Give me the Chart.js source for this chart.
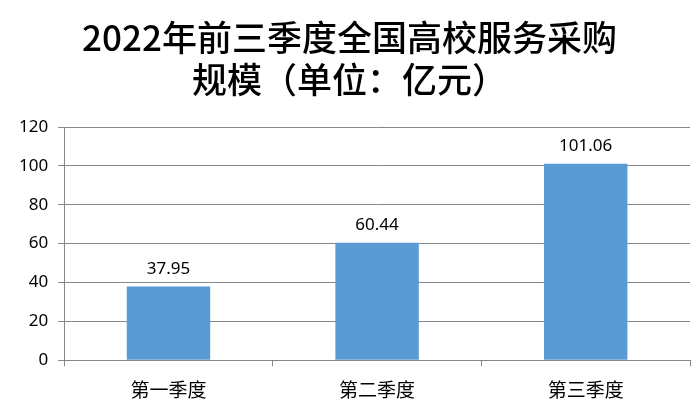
<!DOCTYPE html>
<html>
<head>
<meta charset="utf-8">
<script src="https://cdn.jsdelivr.net/npm/chart.js@4"></script>
<style>
  html, body { margin: 0; padding: 0; background: #fff; }
  #wrap { width: 698px; height: 417px; }
</style>
</head>
<body>
<div id="wrap"><canvas id="chart"></canvas></div>
<script>
// chart data
const categories = ['第一季度', '第二季度', '第三季度'];
const values = [37.95, 60.44, 101.06];
const titleLines = ['2022年前三季度全国高校服务采购', '规模（单位：亿元）'];

const gridColor = '#868686';
const barColor = '#5B9BD5';

// draws the value above each bar
const valueLabels = {
  id: 'valueLabels',
  afterDatasetsDraw(chart) {
    const ctx = chart.ctx;
    const meta = chart.getDatasetMeta(0);
    ctx.save();
    ctx.font = '17px "Noto Sans", "Noto Sans CJK SC", sans-serif';
    ctx.fillStyle = '#000';
    ctx.textAlign = 'center';
    ctx.textBaseline = 'bottom';
    meta.data.forEach((bar, i) => {
      ctx.fillText(values[i].toFixed(2), bar.x, bar.y - 9);
    });
    ctx.restore();
  }
};

const ctx = document.getElementById('chart').getContext('2d');
new Chart(ctx, {
  type: 'bar',
  data: {
    labels: categories,
    datasets: [{
      data: values,
      backgroundColor: barColor,
      borderWidth: 0,
      categoryPercentage: 0.4,
      barPercentage: 1.0
    }]
  },
  options: {
    responsive: true,
    maintainAspectRatio: false,
    animation: false,
    layout: { padding: { left: 9, right: 8, top: 0, bottom: 4 } },
    plugins: {
      legend: { display: false },
      tooltip: { enabled: false },
      title: {
        display: true,
        text: titleLines,
        color: '#000',
        font: { family: '"Noto Sans CJK SC", sans-serif', size: 35, weight: '500', lineHeight: 1.2 },
        padding: { top: 17, bottom: 26 }
      }
    },
    scales: {
      x: {
        grid: {
          offset: true,
          drawOnChartArea: false,
          drawTicks: true,
          tickLength: 6,
          color: gridColor
        },
        border: { color: gridColor, width: 1 },
        ticks: {
          color: '#000',
          padding: 12,
          font: { family: '"Noto Sans CJK SC", sans-serif', size: 19 }
        }
      },
      y: {
        min: 0,
        max: 120,
        grid: {
          color: gridColor,
          tickLength: 6,
          drawTicks: true
        },
        border: { color: gridColor, width: 1 },
        ticks: {
          stepSize: 20,
          color: '#000',
          padding: 10,
          font: { family: '"Noto Sans", sans-serif', size: 17 }
        }
      }
    }
  },
  plugins: [valueLabels]
});
</script>
</body>
</html>
